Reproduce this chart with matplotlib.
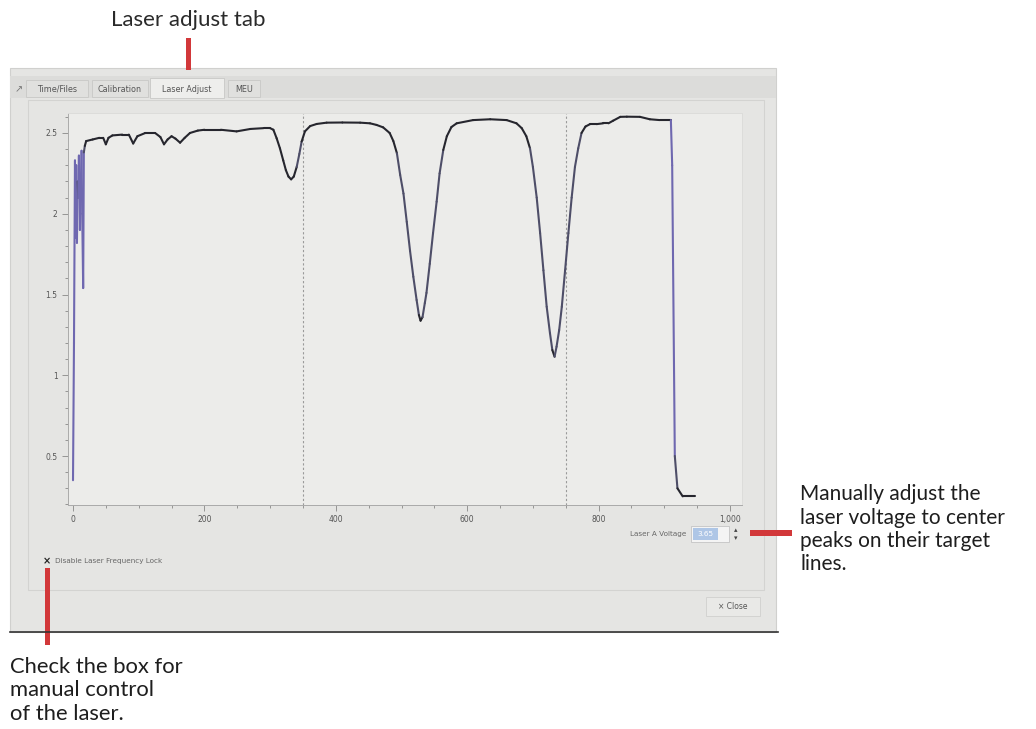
import numpy as np
import matplotlib
matplotlib.use('Agg')
import matplotlib.pyplot as plt
from matplotlib.patches import Rectangle, FancyArrow
from matplotlib.collections import LineCollection
from matplotlib.ticker import MultipleLocator, FuncFormatter

# laser scan trace
scan_x = [0, 1.5, 3, 4, 5, 6, 7, 8, 9, 10.5, 11.5, 13, 14, 15.5, 16.5, 18, 20, 30, 40, 46,
          50, 54, 60, 75, 85, 91.6, 98, 110, 125, 133, 138.5, 144, 150, 156, 163, 170, 178,
          190, 200, 225, 249, 270, 290, 300, 305, 310, 315, 320, 324, 328, 332, 336, 340.5,
          344.5, 348, 353, 361, 371, 386, 410, 437, 452, 462, 472, 482, 487.6, 493, 498, 503,
          508, 513, 518, 523, 526.5, 529, 532, 535.5, 538, 543, 548, 553.5, 558, 563.6, 569,
          576, 584, 609, 635, 660, 675, 683, 690, 695.6, 700, 705.8, 711, 716, 721, 726,
          729.6, 733, 736, 740, 744, 749, 754, 759, 764, 769, 774, 780, 787, 797, 807, 815,
          822, 833, 843, 863, 878, 893, 910, 912, 916, 920, 928, 947]
scan_y = [0.35, 1.2, 2.33, 1.85, 2.3, 1.82, 2.2, 2.1, 2.36, 1.9, 2.1, 2.39, 2.0, 1.54, 2.38,
          2.42, 2.45, 2.46, 2.47, 2.47, 2.43, 2.47, 2.485, 2.49, 2.49, 2.435, 2.48, 2.5, 2.5,
          2.475, 2.43, 2.46, 2.48, 2.465, 2.44, 2.47, 2.5, 2.515, 2.52, 2.52, 2.51, 2.525,
          2.53, 2.53, 2.52, 2.467, 2.405, 2.33, 2.27, 2.23, 2.213, 2.23, 2.29, 2.37, 2.447,
          2.51, 2.543, 2.556, 2.564, 2.565, 2.564, 2.56, 2.55, 2.535, 2.5, 2.45, 2.375, 2.24,
          2.125, 1.95, 1.77, 1.61, 1.466, 1.373, 1.338, 1.36, 1.447, 1.51, 1.69, 1.88, 2.075,
          2.25, 2.395, 2.48, 2.537, 2.56, 2.58, 2.585, 2.58, 2.56, 2.53, 2.48, 2.405, 2.29,
          2.1, 1.88, 1.65, 1.424, 1.26, 1.156, 1.115, 1.177, 1.28, 1.424, 1.65, 1.88, 2.1,
          2.29, 2.405, 2.5, 2.54, 2.555, 2.555, 2.56, 2.56, 2.576, 2.6, 2.601, 2.6, 2.585,
          2.58, 2.58, 2.3, 0.5, 0.3, 0.25, 0.25]
target_lines = [350, 750]
tabs = ['Time/Files', 'Calibration', 'Laser Adjust', 'MEU']
tab_x = [30, 96, 154, 232]
tab_w = [62, 56, 74, 32]

W, H = 1036, 729
fig = plt.figure(figsize=(W / 100, H / 100), dpi=100)
fig.patch.set_facecolor('white')

bg = fig.add_axes([0, 0, 1, 1])
bg.set_xlim(0, W)
bg.set_ylim(H, 0)
bg.axis('off')

red = '#d2383a'
ui_font = 'DejaVu Sans'
note_font = 'Lato'

# window panel
bg.add_patch(Rectangle((10, 68), 766, 564, fc='#e5e5e3', ec='#d0d0ce', lw=0.8))
bg.plot([10, 778], [632, 632], color='#333333', lw=1.2)
bg.add_patch(Rectangle((28, 100), 736, 490, fc='none', ec='#d3d3d1', lw=0.8))
bg.add_patch(Rectangle((10, 76), 766, 22, fc='#dcdcda', ec='none'))

# tabs
for name, tx, tw in zip(tabs, tab_x, tab_w):
    sel = name == 'Laser Adjust'
    bg.add_patch(Rectangle((tx - 4, 78 if sel else 80), tw, 20 if sel else 17,
                           fc='#eeeeec' if sel else '#e0e0de', ec='#c8c8c6', lw=0.6))
    bg.text(tx - 4 + tw / 2, 89, name, fontsize=5.8, color='#555555', ha='center',
            va='center', family=ui_font)
bg.text(19, 89, '\u2197', fontsize=7, color='#777777', ha='center', va='center')

# controls
bg.text(47, 561, '\u00d7', fontsize=7, color='#222222', ha='center', va='center',
        weight='bold', family=ui_font)
bg.text(55, 561, 'Disable Laser Frequency Lock', fontsize=5.2, color='#666666',
        ha='left', va='center', family=ui_font)
bg.text(686, 534, 'Laser A Voltage', fontsize=5.2, color='#666666', ha='right',
        va='center', family=ui_font)
bg.add_patch(Rectangle((691, 526), 38, 16, fc='#f4f4f4', ec='#c4c4c4', lw=0.6))
bg.add_patch(Rectangle((693, 528), 25, 12, fc='#aec6e6', ec='none'))
bg.text(705, 534, '3.65', fontsize=5.2, color='white', ha='center', va='center',
        family=ui_font)
bg.text(736, 530, '\u25b4', fontsize=5, color='#444444', ha='center', va='center')
bg.text(736, 538, '\u25be', fontsize=5, color='#444444', ha='center', va='center')
bg.add_patch(Rectangle((706, 597), 54, 19, fc='#e9e9e7', ec='#d0d0ce', lw=0.6))
bg.text(733, 606.5, '\u00d7 Close', fontsize=5.5, color='#555555', ha='center',
        va='center', family=ui_font)

# annotations
bg.text(188, 20, 'Laser adjust tab', fontsize=16, color='#2a2a2a', ha='center',
        va='center', family=note_font)
bg.add_patch(Rectangle((186, 38), 5, 32, fc=red, ec='none'))
bg.add_patch(Rectangle((45, 568), 5, 77, fc=red, ec='none'))
bg.add_patch(Rectangle((750, 530), 42, 6, fc=red, ec='none'))
for x0, y0 in [(250, 206), (509, 383)]:
    bg.add_patch(FancyArrow(x0, y0, 52, 0, width=3.5, head_width=13, head_length=22,
                            length_includes_head=True, fc=red, ec='none'))
right_note = ['Manually adjust the', 'laser voltage to center', 'peaks on their target', 'lines.']
for i, s in enumerate(right_note):
    bg.text(800, 494 + i * 23.5, s, fontsize=15, color='#1e1e1e', ha='left',
            va='center', family=note_font)
left_note = ['Check the box for', 'manual control', 'of the laser.']
for i, s in enumerate(left_note):
    bg.text(10, 667 + i * 23.5, s, fontsize=15.8, color='#1e1e1e', ha='left',
            va='center', family=note_font)

# plot area
x0p, x1p, y0p, y1p = 68, 742, 113, 505
ax = fig.add_axes([x0p / W, 1 - y1p / H, (x1p - x0p) / W, (y1p - y0p) / H])
ax.set_facecolor('#ececea')
ax.set_xlim((x0p - 73) / 0.657, (x1p - 73) / 0.657)
ax.set_ylim(2.5 - (y1p - 133) / 161.5, 2.5 + (133 - y0p) / 161.5)
for side in ['top', 'right']:
    ax.spines[side].set_color('#dcdcda')
ax.spines['left'].set_color('#aaaaaa')
ax.spines['bottom'].set_color('#aaaaaa')
for sp in ax.spines.values():
    sp.set_linewidth(0.7)

ax.xaxis.set_major_locator(MultipleLocator(200))
ax.xaxis.set_minor_locator(MultipleLocator(50))
ax.yaxis.set_major_locator(MultipleLocator(0.5))
ax.yaxis.set_minor_locator(MultipleLocator(0.1))
ax.xaxis.set_major_formatter(FuncFormatter(lambda v, p: f'{int(v):,}'))
ax.yaxis.set_major_formatter(FuncFormatter(lambda v, p: f'{v:g}'))
ax.tick_params(which='both', colors='#888888', labelcolor='#555555', labelsize=5.5,
               direction='out', width=0.6)
ax.tick_params(which='major', length=4)
ax.tick_params(which='minor', length=2)

for tl in target_lines:
    ax.axvline(tl, color='#9a9a9a', lw=0.8, ls=(0, (2, 2)))

xs = np.array(scan_x)
ys = np.array(scan_y)
pts = np.column_stack([xs, ys]).reshape(-1, 1, 2)
segs = np.concatenate([pts[:-1], pts[1:]], axis=1)
slope = np.abs(np.diff(ys) * 161.5) / np.maximum(np.abs(np.diff(xs) * 0.657), 1e-6)
cols = ['#6f68b0' if s > 25 else ('#4e4e68' if s > 4 else '#26262e') for s in slope]
ax.add_collection(LineCollection(segs, colors=cols, linewidths=1.5, capstyle='round',
                                 joinstyle='round'))

fig.savefig('out.png', dpi=100, facecolor='white')
